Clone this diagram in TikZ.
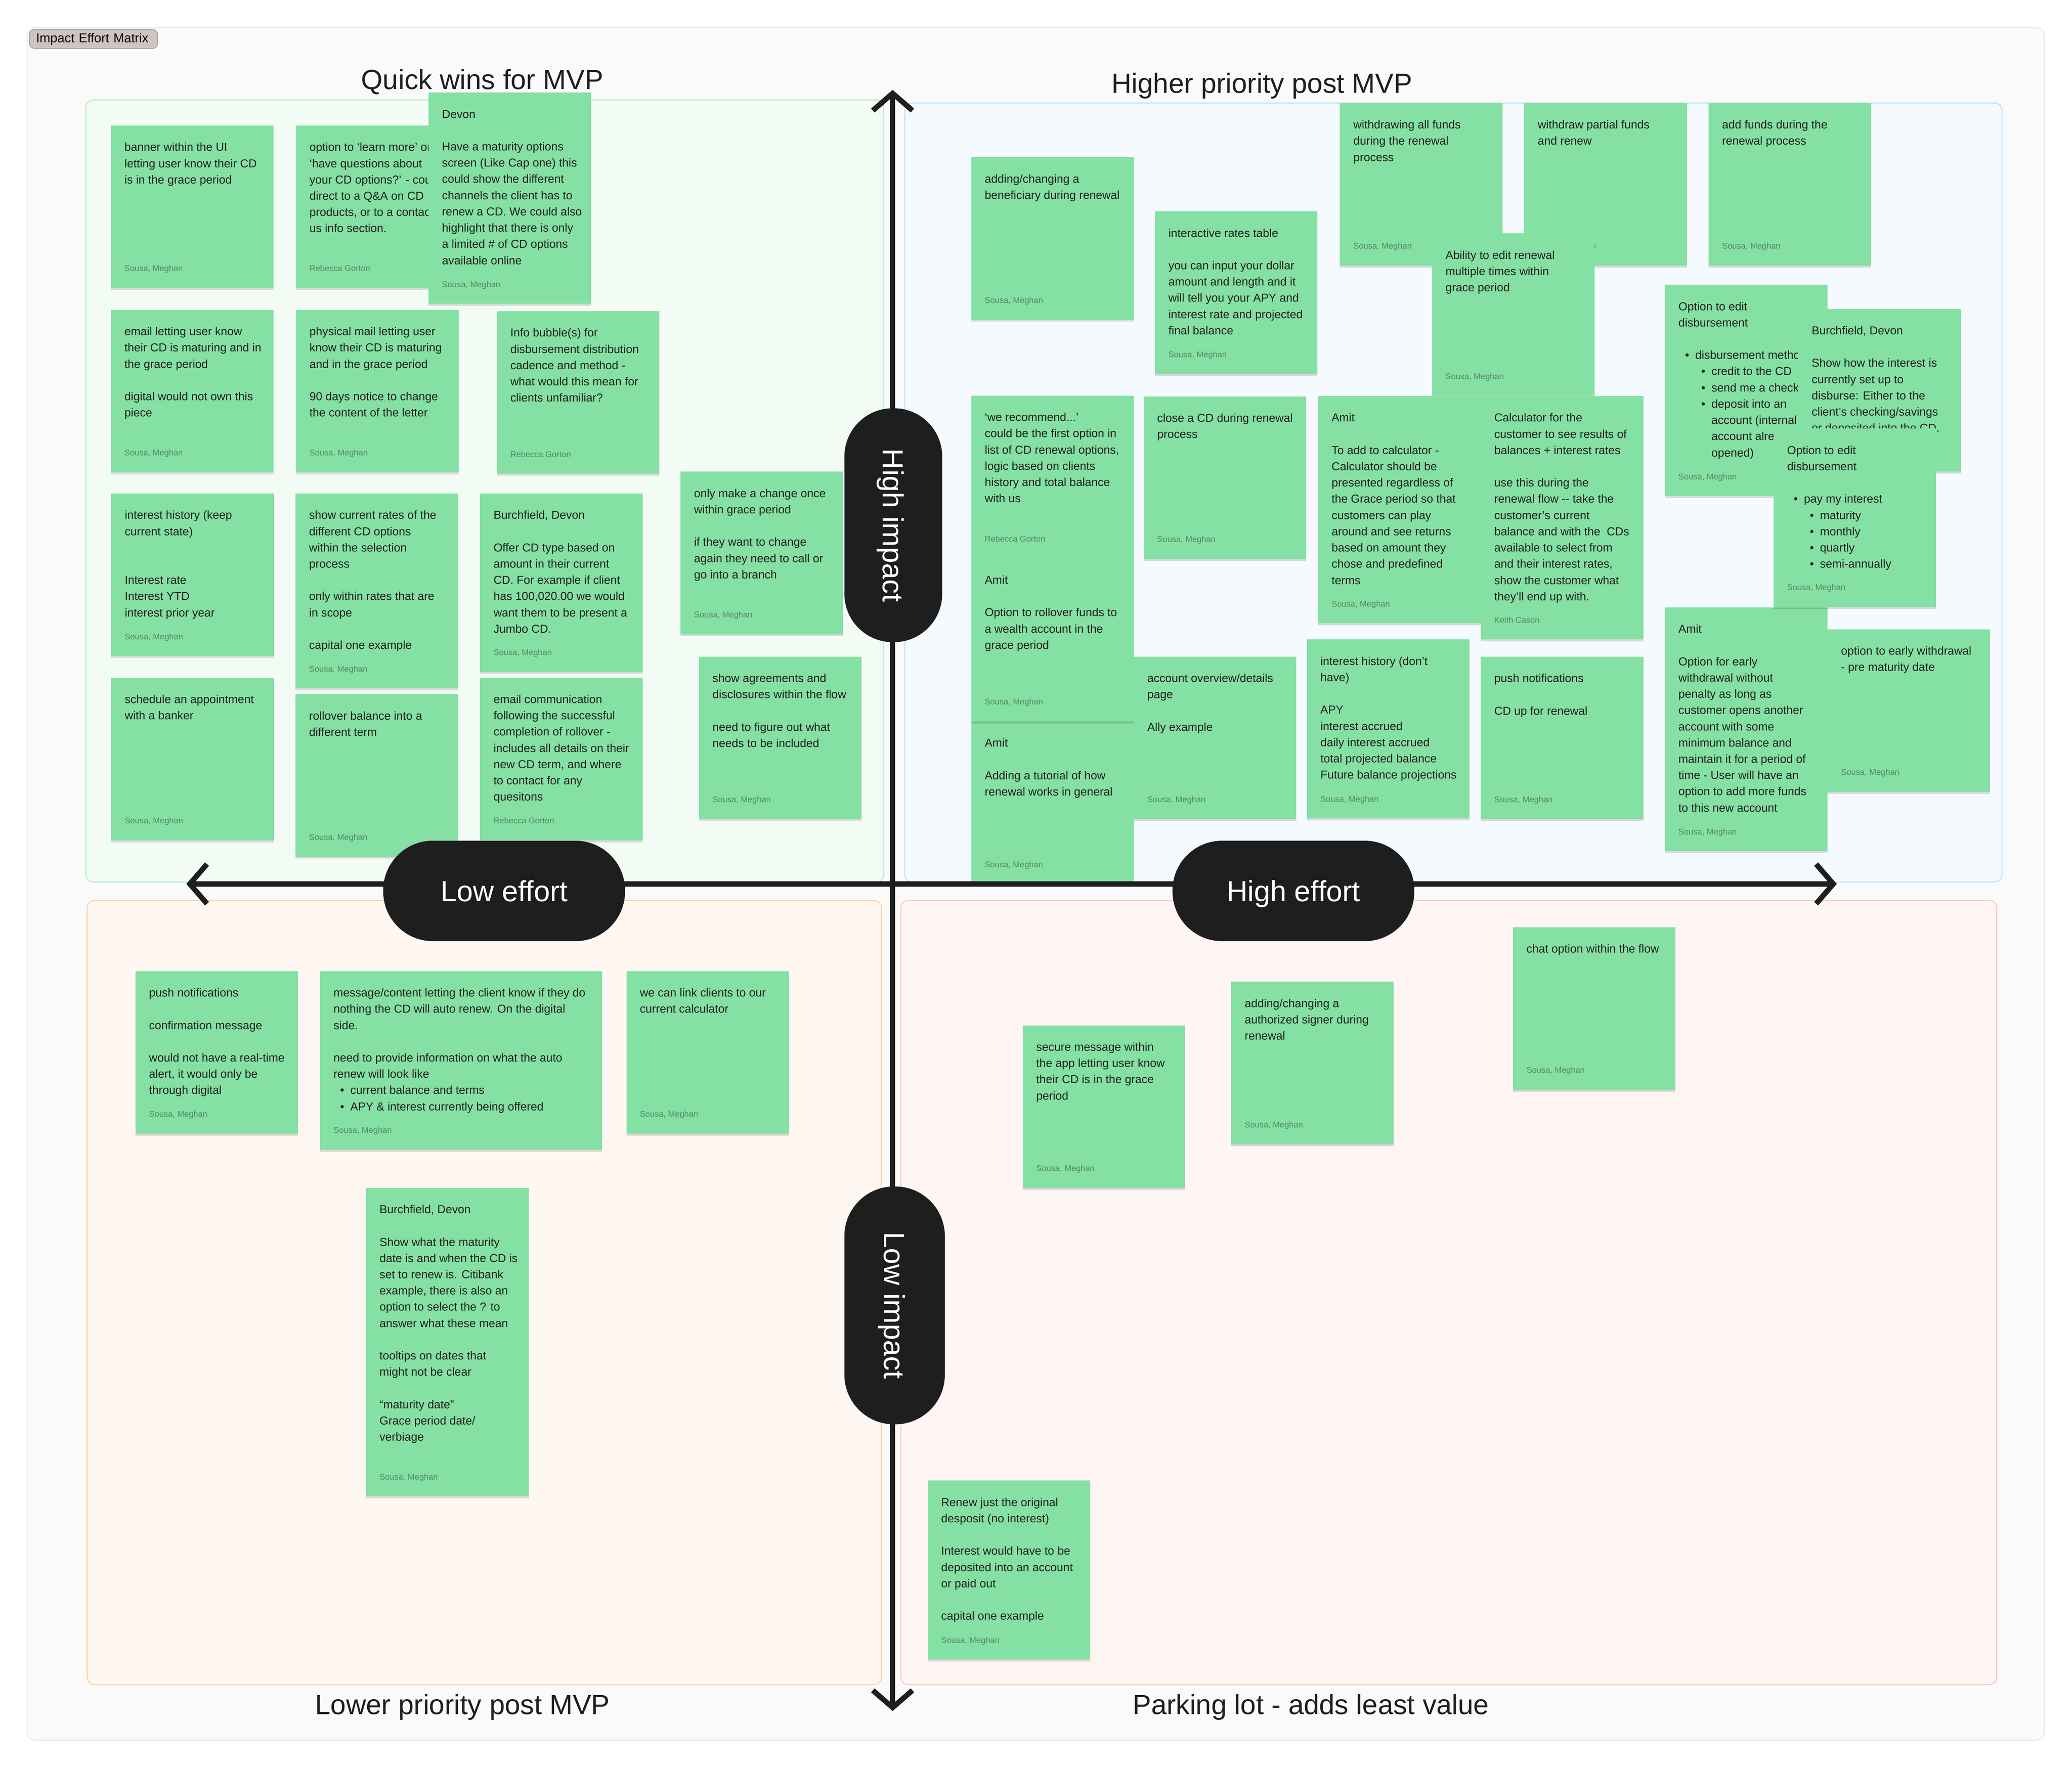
\documentclass[tikz,border=0pt]{standalone}
\usepackage{fontspec}
\setmainfont{Liberation Sans}
\usetikzlibrary{arrows.meta,shadows}

\definecolor{ink}{RGB}{30,30,30}
\definecolor{notegreen}{RGB}{133,224,163}
\definecolor{bygray}{RGB}{83,137,101}
\definecolor{framefill}{RGB}{250,250,250}
\definecolor{frameline}{RGB}{229,229,229}
\definecolor{tagfill}{RGB}{207,196,196}
\definecolor{tagline}{RGB}{170,160,160}
\definecolor{tlfill}{RGB}{242,252,244}
\definecolor{tlline}{RGB}{178,238,196}
\definecolor{trfill}{RGB}{245,250,255}
\definecolor{trline}{RGB}{189,227,255}
\definecolor{blfill}{RGB}{255,247,241}
\definecolor{blline}{RGB}{252,212,158}
\definecolor{brfill}{RGB}{255,246,244}
\definecolor{brline}{RGB}{255,200,195}

% one empty line, two empty lines, list bullets
\newcommand{\gapline}{\\[12.3pt]}
\newcommand{\gaplines}{\\[24.6pt]}
\newcommand{\bone}{\hspace*{5pt}\makebox[7.7pt][l]{\textbullet}}
\newcommand{\btwo}{\hspace*{17.2pt}\makebox[7.7pt][l]{\textbullet}}
\newcommand{\bcont}{\hspace*{24.9pt}}

% sticky note: name, x, y, width, height, text, author
\newcommand{\sticky}[7]{%
  \node[sticky, minimum width=#4pt, minimum height=#5pt] (#1) at (#2,#3) {};
  \node[stickytext] (#1text) at ([shift={(10pt,-19.4pt)}]#1.north west) {\parbox[t]{300pt}{#6}};
  \node[byline] (#1by) at ([shift={(10pt,12.6pt)}]#1.south west) {#7};
}

\begin{document}
\begin{tikzpicture}[x=1pt, y=-1pt,
  sticky/.style={rectangle, anchor=north west, inner sep=0pt, outer sep=0pt, fill=notegreen,
    drop shadow={shadow xshift=0pt, shadow yshift=-1.5pt, opacity=0.13, fill=black}},
  stickytext/.style={anchor=base west, inner sep=0pt, text=ink, font=\fontsize{8.75}{12.3}\selectfont},
  byline/.style={anchor=base west, inner sep=0pt, text=bygray, font=\fontsize{6.3}{7.5}\selectfont},
  title/.style={anchor=base, inner sep=0pt, text=ink, font=\fontsize{21}{25}\selectfont},
  pill/.style={rectangle, rounded corners=36.5pt, fill=ink, text=white, inner sep=0pt,
    font=\fontsize{22}{26}\selectfont, text height=15.8pt, text depth=0pt},
  axis/.style={draw=ink, line width=4pt, >={Straight Barb[length=13pt,width=30pt]}, <->}]

  \useasboundingbox (0,0) rectangle (1568,1338);

  % section frame
  \draw[draw=frameline, fill=framefill, line width=0.7pt, rounded corners=6pt] (20.5,21) rectangle (1547,1317);
  \node[anchor=west, rectangle, rounded corners=4pt, fill=tagfill, draw=tagline, line width=0.6pt,
    minimum height=14.4pt, text width=87pt, inner xsep=5pt, inner ysep=0pt,
    font=\fontsize{9.7}{11}\selectfont] (tag) at (22,29.5) {Impact Effort Matrix};

  % quadrants
  \draw[draw=tlline, fill=tlfill, line width=0.8pt, rounded corners=5.5pt] (65,75.7) rectangle (668.8,667.5);
  \draw[draw=trline, fill=trfill, line width=0.8pt, rounded corners=5.5pt] (684.7,78) rectangle (1515,667.5);
  \draw[draw=blline, fill=blfill, line width=0.8pt, rounded corners=5.5pt] (66,681.6) rectangle (667,1275);
  \draw[draw=brline, fill=brfill, line width=0.8pt, rounded corners=5.5pt] (681.7,681.6) rectangle (1511,1275);

  \node[title] (quickwins) at (365,67.5) {Quick wins for MVP};
  \node[title] (higherprio) at (955,70.5) {Higher priority post MVP};
  \node[title] (lowerprio) at (350,1297.5) {Lower priority post MVP};
  \node[title] (parking) at (992,1297.5) {Parking lot - adds least value};

  % quick wins for MVP
  \sticky{banner}{84}{95}{123}{123}{banner within the UI\\letting user know their CD\\is in the grace period}{Sousa, Meghan}
  \sticky{learnmore}{224}{95}{123}{123}{option to ‘learn more’ or\\‘have questions about\\your CD options?’ - could\\direct to a Q\&A on CD\\products, or to a contact\\us info section.}{Rebecca Gorton}
  \sticky{devon}{324.3}{70}{123}{160}{Devon\gapline Have a maturity options\\screen (Like Cap one) this\\could show the different\\channels the client has to\\renew a CD. We could also\\highlight that there is only\\a limited \# of CD options\\available online}{Sousa, Meghan}
  \sticky{email}{84}{234.5}{123}{123}{email letting user know\\their CD is maturing and in\\the grace period\gapline digital would not own this\\piece}{Sousa, Meghan}
  \sticky{mail}{224}{234.5}{123}{123}{physical mail letting user\\know their CD is maturing\\and in the grace period\gapline 90 days notice to change\\the content of the letter}{Sousa, Meghan}
  \sticky{bubble}{376}{235.5}{123}{123}{Info bubble(s) for\\disbursement distribution\\cadence and method -\\what would this mean for\\clients unfamiliar?}{Rebecca Gorton}
  \sticky{history}{84.2}{373.5}{123}{123}{interest history (keep\\current state)\gaplines Interest rate\\Interest YTD\\interest prior year}{Sousa, Meghan}
  \sticky{rates}{223.7}{373.5}{123}{147.5}{show current rates of the\\different CD options\\within the selection\\process\gapline only within rates that are\\in scope\gapline capital one example}{Sousa, Meghan}
  \sticky{cdtype}{363.3}{373.5}{123}{135}{Burchfield, Devon\gapline Offer CD type based on\\amount in their current\\CD. For example if client\\has 100,020.00 we would\\want them to be present a\\Jumbo CD.}{Sousa, Meghan}
  \sticky{appointment}{84.2}{512.9}{123}{123}{schedule an appointment\\with a banker}{Sousa, Meghan}
  \sticky{rollover}{223.7}{525.4}{123}{123}{rollover balance into a\\different term}{Sousa, Meghan}
  \sticky{emailcomm}{363.3}{512.9}{123}{123}{email communication\\following the successful\\completion of rollover -\\includes all details on their\\new CD term, and where\\to contact for any\\quesitons}{Rebecca Gorton}
  \sticky{changeonce}{515}{357}{123}{123}{only make a change once\\within grace period\gapline if they want to change\\again they need to call or\\go into a branch}{Sousa, Meghan}
  \sticky{agreements}{529}{497}{123}{123}{show agreements and\\disclosures within the flow\gapline need to figure out what\\needs to be included}{Sousa, Meghan}

  % higher priority post MVP
  \sticky{beneficiary}{735}{119}{123}{123}{adding/changing a\\beneficiary during renewal}{Sousa, Meghan}
  \sticky{ratestable}{874}{160}{123}{123}{interactive rates table\gapline you can input your dollar\\amount and length and it\\will tell you your APY and\\interest rate and projected\\final balance}{Sousa, Meghan}
  \sticky{withdrawall}{1014}{78}{123}{123}{withdrawing all funds\\during the renewal\\process}{Sousa, Meghan}
  \sticky{withdrawpart}{1153.5}{78}{123}{123}{withdraw partial funds\\and renew}{Sousa, Meghan}
  \sticky{editrenewal}{1083.7}{176.6}{123}{123}{Ability to edit renewal\\multiple times within\\grace period}{Sousa, Meghan}
  \sticky{addfunds}{1293}{78}{123}{123}{add funds during the\\renewal process}{Sousa, Meghan}
  \sticky{tutorial}{735}{546}{123}{123}{Amit\gapline Adding a tutorial of how\\renewal works in general}{Sousa, Meghan}
  \sticky{recommend}{735}{299.4}{123}{246.5}{‘we recommend...’\\could be the first option in\\list of CD renewal options,\\logic based on clients\\history and total balance\\with us}{Sousa, Meghan}
  \node[byline] (recommendgorton) at (745,410) {Rebecca Gorton};
  \node[stickytext] (recommendamit) at (745,442) {\parbox[t]{300pt}{Amit\gapline Option to rollover funds to\\a wealth account in the\\grace period}};
  \sticky{closecd}{865.5}{300}{123}{123}{close a CD during renewal\\process}{Sousa, Meghan}
  \sticky{calcamit}{997.5}{299.8}{123}{172}{Amit\gapline To add to calculator -\\Calculator should be\\presented regardless of\\the Grace period so that\\customers can play\\around and see returns\\based on amount they\\chose and predefined\\terms}{Sousa, Meghan}
  \sticky{calckeith}{1120.6}{299.8}{123}{184.2}{Calculator for the\\customer to see results of\\balances + interest rates\gapline use this during the\\renewal flow -{}- take the\\customer’s current\\balance and with the\ \ CDs\\available to select from\\and their interest rates,\\show the customer what\\they’ll end up with.}{Keith Cason}
  \sticky{overview}{858}{497}{123}{123}{account overview/details\\page\gapline Ally example}{Sousa, Meghan}
  \sticky{historyapy}{989}{484}{123}{135.5}{interest history (don’t\\have)\gapline APY\\interest accrued\\daily interest accrued\\total projected balance\\Future balance projections}{Sousa, Meghan}
  \sticky{pushrenewal}{1120.6}{497}{123}{123}{push notifications\gapline CD up for renewal}{Sousa, Meghan}
  \sticky{disbmethod}{1260}{215.5}{123}{160}{Option to edit\\disbursement\gapline \bone disbursement method\\\btwo credit to the CD\\\btwo send me a check\\\btwo deposit into an\\\bcont account (internal\\\bcont account already\\\bcont opened)}{Sousa, Meghan}
  \sticky{disbshow}{1360.8}{233.8}{123}{123}{Burchfield, Devon\gapline Show how the interest is\\currently set up to\\disburse: Either to the\\client's checking/savings\\or deposited into the CD.}{}
  \sticky{earlyamit}{1260}{459.7}{123}{184.5}{Amit\gapline Option for early\\withdrawal without\\penalty as long as\\customer opens another\\account with some\\minimum balance and\\maintain it for a period of\\time - User will have an\\option to add more funds\\to this new account}{Sousa, Meghan}
  \sticky{disbpay}{1342.2}{324.4}{123}{135}{Option to edit\\disbursement\gapline \bone pay my interest\\\btwo maturity\\\btwo monthly\\\btwo quartly\\\btwo semi-annually}{Sousa, Meghan}
  \sticky{earlydate}{1383}{476.3}{123}{123}{option to early withdrawal\\- pre maturity date}{Sousa, Meghan}

  % lower priority post MVP
  \sticky{pushconfirm}{102.6}{735}{123}{123}{push notifications\gapline confirmation message\gapline would not have a real-time\\alert, it would only be\\through digital}{Sousa, Meghan}
  \sticky{autorenew}{242.2}{735}{213.3}{135.2}{message/content letting the client know if they do\\nothing the CD will auto renew. On the digital\\side.\gapline need to provide information on what the auto\\renew will look like\\\bone current balance and terms\\\bone APY \& interest currently being offered}{Sousa, Meghan}
  \sticky{calclink}{474}{735}{123}{123}{we can link clients to our\\current calculator}{Sousa, Meghan}
  \sticky{maturity}{277}{899}{123}{233.5}{Burchfield, Devon\gapline Show what the maturity\\date is and when the CD is\\set to renew is. Citibank\\example, there is also an\\option to select the ? to\\answer what these mean\gapline tooltips on dates that\\might not be clear\gapline “maturity date”\\Grace period date/\\verbiage}{Sousa, Meghan}

  % parking lot
  \sticky{securemsg}{774}{776}{123}{123}{secure message within\\the app letting user know\\their CD is in the grace\\period}{Sousa, Meghan}
  \sticky{signer}{931.7}{743}{123}{123}{adding/changing a\\authorized signer during\\renewal}{Sousa, Meghan}
  \sticky{chat}{1145}{701.7}{123}{123}{chat option within the flow}{Sousa, Meghan}
  \sticky{principal}{702}{1120.6}{123}{135.5}{Renew just the original\\desposit (no interest)\gapline Interest would have to be\\deposited into an account\\or paid out\gapline capital one example}{Sousa, Meghan}

  % axes
  \coordinate (itop) at (675.5,68);
  \coordinate (ibottom) at (675.5,1295);
  \coordinate (eleft) at (141,669);
  \coordinate (eright) at (1390,669);
  \draw[axis] (ibottom) -- (itop);
  \draw[axis] (eleft) -- (eright);

  % axis labels
  \node[pill, rotate=-90, minimum width=177pt, minimum height=74pt] (highimpact) at (676,397.5) {High impact};
  \node[pill, rotate=-90, minimum width=180pt, minimum height=76pt, rounded corners=37.5pt] (lowimpact) at (677,988) {Low impact};
  \node[pill, minimum width=183pt, minimum height=76pt, rounded corners=37.5pt] (loweffort) at (381.5,674.3) {Low effort};
  \node[pill, minimum width=183pt, minimum height=76pt, rounded corners=37.5pt] (higheffort) at (978.8,674.3) {High effort};
\end{tikzpicture}
\end{document}
